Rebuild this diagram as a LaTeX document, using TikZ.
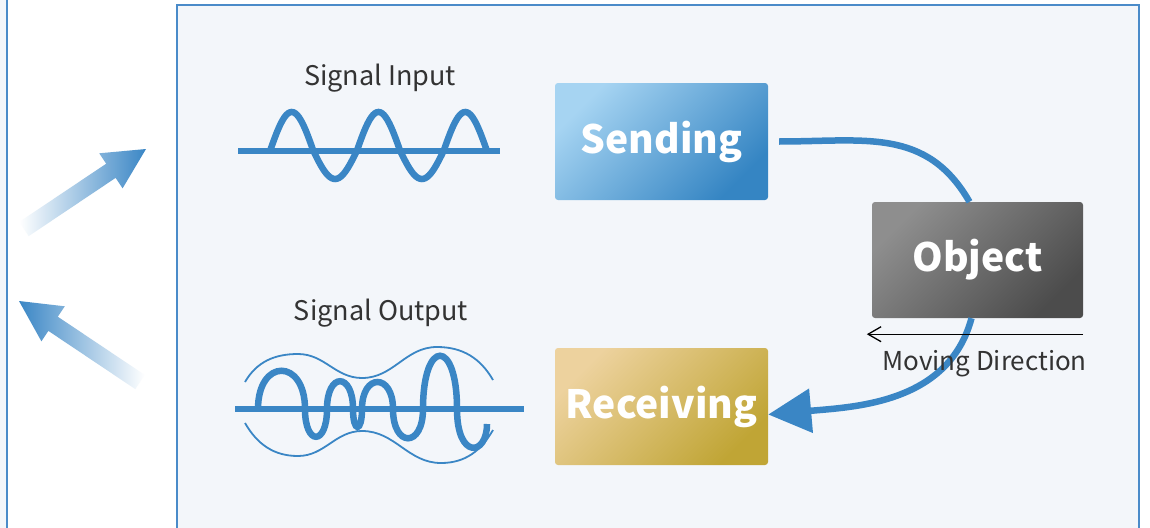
\documentclass[tikz,border=0pt]{standalone}
\usepackage{fontspec}
\setmainfont{Noto Sans CJK SC}
\usetikzlibrary{arrows.meta}

\definecolor{panelfill}{HTML}{F3F6FA}
\definecolor{panelline}{HTML}{4A8BC9}
\definecolor{wireblue}{HTML}{3A86C5}
\definecolor{labelgray}{HTML}{333333}
\definecolor{sendtop}{HTML}{A6D4F2}
\definecolor{sendmid}{HTML}{4C95CF}
\definecolor{sendbot}{HTML}{3585C3}
\definecolor{objtop}{HTML}{8E8E8E}
\definecolor{objmid}{HTML}{666666}
\definecolor{objbot}{HTML}{4C4C4C}
\definecolor{recvtop}{HTML}{EDD29E}
\definecolor{recvmid}{HTML}{D4B95C}
\definecolor{recvbot}{HTML}{C0A535}

\tikzset{
  panel/.style={fill=panelfill, draw=panelline, line width=1.6pt},
  wave/.style={draw=wireblue, line width=6.5pt},
  envelope/.style={draw=wireblue, line width=1.8pt},
  flow/.style={draw=wireblue, line width=6.5pt},
  blockbox/.style={rounded corners=3pt, minimum width=213pt, minimum height=117pt,
    inner sep=0pt, text=white, font=\fontsize{39}{44}\selectfont\bfseries},
  siglabel/.style={text=labelgray, font=\fontsize{27}{30}\selectfont, inner sep=0pt},
}

\begin{document}
\begin{tikzpicture}[x=1pt, y=1pt]
  \useasboundingbox (0,0) rectangle (1150,-527);
  \fill[white] (0,0) rectangle (1150,-527);
  \clip (0,0) rectangle (1150,-527);

  % panels
  \draw[panel] (-20,10) rectangle (7,-540);
  \draw[panel] (177,-5) rectangle (1139,-540);

  % faded arrows on the left
  \shade[left color=white, right color=wireblue]
    (28.7,-236.1) -- (19.3,-221.9) -- (106.2,-163.7) -- (99.2,-153.3)
    -- (146,-149) -- (122.6,-188.3) -- (115.6,-177.9) -- cycle;
  \shade[left color=wireblue, right color=white]
    (144.7,-374.9) -- (135.3,-389.1) -- (48.4,-330.9) -- (41.4,-341.3)
    -- (19,-301) -- (64.8,-306.3) -- (57.8,-316.7) -- cycle;

  % signal input
  \node[siglabel, anchor=base] (siginput) at (380,-85) {Signal Input};
  \draw[wave] (238,-151) -- (500,-151);
  \draw[wave] plot[domain=0:900, samples=121, smooth]
    ({270+\x*0.2411}, {-151+(sin(\x)>0 ? 39 : 28)*sin(\x)});

  % signal output
  \node[siglabel, anchor=base] (sigoutput) at (381,-320) {Signal Output};
  \draw[wave] (235,-409) -- (524,-409);
  \draw[wave] (258,-409)
    .. controls (258,-358) and (305,-358) .. (305,-409)
    .. controls (305,-446) and (327,-446) .. (327,-409)
    .. controls (327,-372) and (353,-372) .. (353,-409)
    .. controls (353,-433) and (362,-433) .. (362,-409)
    .. controls (362,-373) and (393,-373) .. (393,-409)
    .. controls (393,-448) and (423,-448) .. (423,-409)
    .. controls (423,-338) and (457,-338) .. (457,-409)
    .. controls (457,-460) and (487,-456) .. (487,-424);
  \draw[envelope] (245,-382) to[out=60,in=180] (298,-354) to[out=0,in=180] (362,-378)
    to[out=0,in=180] (437,-347) to[out=0,in=120] (493,-380);
  \draw[envelope] (245,-423) to[out=-60,in=180] (298,-456) to[out=0,in=180] (362,-431)
    to[out=0,in=180] (441,-463) to[out=0,in=-120] (493,-430);

  % blocks
  \node[blockbox, top color=sendtop, middle color=sendmid, bottom color=sendbot,
    shading angle=45] (sending) at (661.5,-141.5) {Sending};
  \node[blockbox, minimum width=211pt, minimum height=116pt,
    top color=objtop, middle color=objmid, bottom color=objbot, shading angle=45]
    (object) at (977.5,-260) {Object};
  \node[blockbox, top color=recvtop, middle color=recvmid, bottom color=recvbot,
    shading angle=45] (receiving) at (661.5,-406.5) {Receiving};

  % flow
  \draw[flow] ([xshift=11pt]sending.east) to[out=0, in=120, looseness=1.1]
    ([xshift=-8pt]object.north);
  \draw[flow, -{Triangle[length=43pt, width=43pt]}] ([xshift=-6pt]object.south)
    to[out=-105, in=5] ([yshift=-8pt]receiving.east);

  % moving direction
  \coordinate (moveR) at ([yshift=-16pt]object.south east);
  \coordinate (moveL) at ([shift={(-5pt,-16pt)}]object.south west);
  \draw[-{Straight Barb[length=13pt, width=15pt]}, line width=1.3pt] (moveR) -- (moveL);
  \node[siglabel, font=\fontsize{26}{30}\selectfont, anchor=base west]
    (movetext) at (882,-370) {Moving Direction};
\end{tikzpicture}
\end{document}
